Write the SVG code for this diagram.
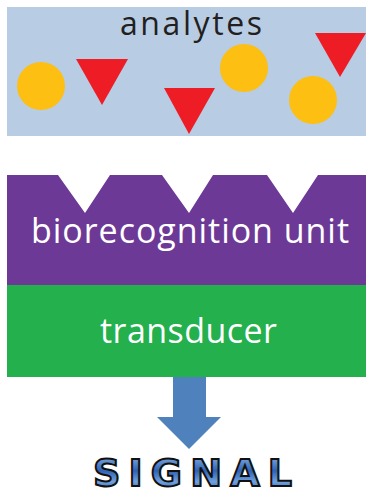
<svg xmlns="http://www.w3.org/2000/svg" width="366" height="494" viewBox="0 0 366 494">
<defs>
<style>
.lbl{font-family:"Open Sans","Liberation Sans",sans-serif;}
.an{fill:#FCBF12}
.tri{fill:#EE1C24}
</style>
<linearGradient id="sg" x1="0" y1="0" x2="0" y2="1">
<stop offset="0" stop-color="#9CC3EE"/>
<stop offset="0.45" stop-color="#2F62B4"/>
<stop offset="0.7" stop-color="#6FA1E0"/>
<stop offset="1" stop-color="#1D4A9A"/>
</linearGradient>
</defs>
<rect width="366" height="494" fill="#FFFFFF"/>
<g id="analytes">
<rect x="7" y="7" width="359" height="129" fill="#B8CCE4"/>
<text class="lbl" x="120" y="35" font-size="32" fill="#231F20" textLength="142" lengthAdjust="spacing">analytes</text>
<circle class="an" cx="41" cy="86" r="24"/>
<circle class="an" cx="244" cy="68" r="24"/>
<circle class="an" cx="313" cy="100" r="24"/>
<polygon class="tri" points="76,59 128,59 102,105"/>
<polygon class="tri" points="164,88 215,88 189,134"/>
<polygon class="tri" points="315,33 366,33 340,77"/>
</g>
<g id="biorecognition">
<polygon fill="#6D3996" points="7,175 58,175 85,213 110,175 162,175 189,213 213,175 267,175 293,213 318,175 366,175 366,285 7,285"/>
<text class="lbl" x="31" y="243" font-size="34" fill="#FFFFFF" textLength="318" lengthAdjust="spacing">biorecognition unit</text>
</g>
<g id="transducer">
<rect x="7" y="285" width="359" height="92" fill="#23B04D"/>
<text class="lbl" x="100" y="343" font-size="34" fill="#FFFFFF" textLength="177" lengthAdjust="spacing">transducer</text>
</g>
<g id="connectors">
<polygon fill="#4F81BD" points="173,377 206,377 206,417 221,417 189,449 157,417 173,417"/>
</g>
<g id="signal">
<text x="93" y="486" font-family="'DejaVu Sans','Liberation Sans',sans-serif" font-weight="bold" font-size="38" textLength="199" lengthAdjust="spacing" fill="url(#sg)" stroke="#111111" stroke-width="2">SIGNAL</text>
</g>
</svg>
